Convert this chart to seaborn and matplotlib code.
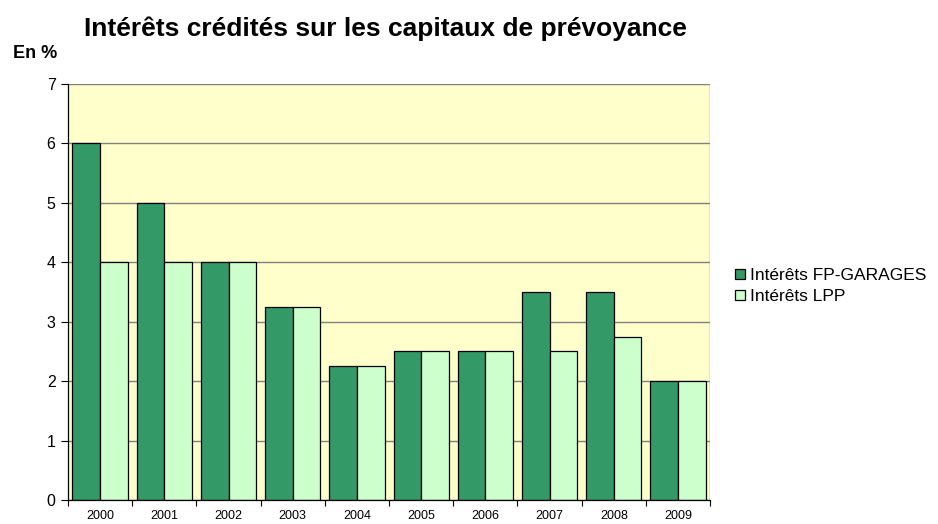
import matplotlib

matplotlib.use("Agg")
import matplotlib.pyplot as plt
import numpy as np
import pandas as pd
import seaborn as sns

years = ["2000", "2001", "2002", "2003", "2004", "2005", "2006", "2007", "2008", "2009"]
fp_garages = [6.0, 5.0, 4.0, 3.25, 2.25, 2.5, 2.5, 3.5, 3.5, 2.0]
lpp = [4.0, 4.0, 4.0, 3.25, 2.25, 2.5, 2.5, 2.5, 2.75, 2.0]
series_names = ["Intérêts FP-GARAGES", "Intérêts LPP"]
y_ticks = [0, 1, 2, 3, 4, 5, 6, 7]

df = pd.DataFrame({
    "year": years * 2,
    "value": fp_garages + lpp,
    "serie": [series_names[0]] * len(years) + [series_names[1]] * len(years),
})

sns.set_theme(style="white")
plt.rcParams["font.family"] = ["Liberation Sans", "DejaVu Sans"]
plt.rcParams["text.color"] = "black"

fig = plt.figure(figsize=(9.38, 5.24), dpi=100)
ax = fig.add_axes([0.0725, 0.0458, 0.6845, 0.7939])
ax.set_facecolor("#FFFFCC")

sns.barplot(
    data=df, x="year", y="value", hue="serie",
    palette=["#339966", "#CCFFCC"], width=0.86, gap=0,
    edgecolor="black", linewidth=0.9, saturation=1, ax=ax,
)

ax.set_ylim(0, 7)
ax.set_xlim(-0.5, len(years) - 0.5)
ax.set_yticks(y_ticks)
ax.yaxis.grid(True, color="#808080", linewidth=1)
ax.set_axisbelow(True)
ax.tick_params(axis="y", labelsize=11.5, length=5, width=0.8, direction="out",
               left=True, pad=4, colors="black")
ax.tick_params(axis="x", which="major", labelsize=9, length=0, pad=7, labelcolor="black")
ax.set_xticks(np.arange(-0.5, len(years)), minor=True)
ax.tick_params(axis="x", which="minor", length=4, width=0.8, direction="out",
               bottom=True, color="black")

for side in ["top", "right"]:
    ax.spines[side].set_visible(False)
ax.spines["left"].set_color("black")
ax.spines["bottom"].set_color("black")
ax.spines["left"].set_linewidth(0.9)
ax.spines["bottom"].set_linewidth(0.9)
ax.axvline(len(years) - 0.5, color="#808080", linewidth=1)

ax.set_xlabel("")
ax.set_ylabel("")

ax.legend(
    loc="center left", bbox_to_anchor=(1.014, 0.514), frameon=False,
    fontsize=12.5, handlelength=0.57, handleheight=0.57, handletextpad=0.3,
    labelspacing=0.35, borderpad=0.4, labelcolor="black",
)

fig.text(0.411, 0.945, "Intérêts crédités sur les capitaux de prévoyance",
         ha="center", va="center", fontsize=19, fontweight="bold")
fig.text(0.037, 0.897, "En %", ha="center", va="center", fontsize=13, fontweight="bold")

fig.savefig("out.png", dpi=100)
